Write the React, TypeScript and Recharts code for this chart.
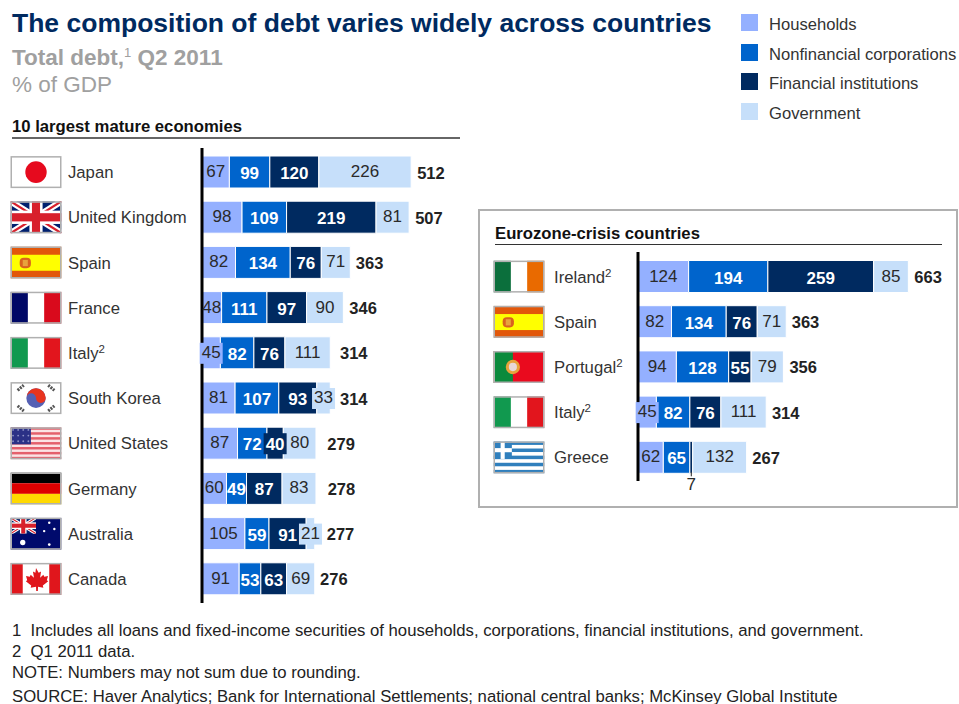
import React from 'react';
import { Bar, BarChart, LabelList, XAxis, YAxis } from 'recharts';

const seriesNames = ['Households', 'Nonfinancial corporations', 'Financial institutions', 'Government'];
const seriesKeys = ['households', 'corporations', 'financial', 'government'];
const seriesColors = ['#94b0ff', '#0064cc', '#002a60', '#c6dffa'];

// 10 largest mature economies
const matureCountries = ['Japan', 'United Kingdom', 'Spain', 'France', 'Italy', 'South Korea', 'United States', 'Germany', 'Australia', 'Canada'];
const matureHouseholds = [67, 98, 82, 48, 45, 81, 87, 60, 105, 91];
const matureCorporations = [99, 109, 134, 111, 82, 107, 72, 49, 59, 53];
const matureFinancial = [120, 219, 76, 97, 76, 93, 40, 87, 91, 63];
const matureGovernment = [226, 81, 71, 90, 111, 33, 80, 83, 21, 69];
const matureTotals = [512, 507, 363, 346, 314, 314, 279, 278, 277, 276];

// Eurozone-crisis countries
const crisisCountries = ['Ireland', 'Spain', 'Portugal', 'Italy', 'Greece'];
const crisisHouseholds = [124, 82, 94, 45, 62];
const crisisCorporations = [194, 134, 128, 82, 65];
const crisisFinancial = [259, 76, 55, 76, 7];
const crisisGovernment = [85, 71, 79, 111, 132];
const crisisTotals = [663, 363, 356, 314, 267];

const q1Countries = ['Ireland', 'Portugal', 'Italy'];

const footnotes = [
  '1  Includes all loans and fixed-income securities of households, corporations, financial institutions, and government.',
  '2  Q1 2011 data.',
  'NOTE: Numbers may not sum due to rounding.',
  'SOURCE: Haver Analytics; Bank for International Settlements; national central banks; McKinsey Global Institute',
];

const FONT = '"Liberation Sans", Arial, sans-serif';
const INK = '#333333';

const buildRows = (
  names: string[],
  households: number[],
  corporations: number[],
  financial: number[],
  government: number[],
  totals: number[],
) =>
  names.map((name, i) => ({
    name,
    households: households[i],
    corporations: corporations[i],
    financial: financial[i],
    government: government[i],
    total: totals[i],
  }));

const matureRows = buildRows(matureCountries, matureHouseholds, matureCorporations, matureFinancial, matureGovernment, matureTotals);
const crisisRows = buildRows(crisisCountries, crisisHouseholds, crisisCorporations, crisisFinancial, crisisGovernment, crisisTotals);

// extra room between bar end and total where the last segment's label spills over
const matureTotalGaps = [6, 6, 5.5, 6, 9.7, 9.7, 11.3, 11.7, 12, 5.3];
const crisisTotalGaps = [6, 5.5, 6, 5.7, 5.7];

function UnionJack({ w, h }: { w: number; h: number }) {
  const arm = h * 0.16;
  return (
    <g>
      <rect width={w} height={h} fill="#00206f" />
      <path d={`M0 0L${w} ${h}M${w} 0L0 ${h}`} stroke="#fff" strokeWidth={h * 0.2} />
      <path d={`M0 0L${w} ${h}M${w} 0L0 ${h}`} stroke="#d8202c" strokeWidth={h * 0.07} />
      <rect x={w / 2 - arm * 1.3} width={arm * 2.6} height={h} fill="#fff" />
      <rect y={h / 2 - arm * 1.3} width={w} height={arm * 2.6} fill="#fff" />
      <rect x={w / 2 - arm * 0.8} width={arm * 1.6} height={h} fill="#d8202c" />
      <rect y={h / 2 - arm * 0.8} width={w} height={arm * 1.6} fill="#d8202c" />
    </g>
  );
}

function FlagArt({ name }: { name: string }) {
  const W = 50;
  const H = 31;
  switch (name) {
    case 'Japan':
      return (
        <g>
          <rect width={W} height={H} fill="#fff" />
          <circle cx={25} cy={15.5} r={10.5} fill="#e60a1e" />
        </g>
      );
    case 'United Kingdom':
      return <UnionJack w={W} h={H} />;
    case 'Spain':
      return (
        <g>
          <rect width={W} height={H} fill="#e2570a" />
          <rect y={8} width={W} height={15.5} fill="#ffff00" />
          <rect x={9} y={11} width={11} height={10} rx={4} fill="#d9621e" />
          <rect x={12} y={13} width={5} height={6} fill="#e8a33c" />
        </g>
      );
    case 'France':
      return (
        <g>
          <rect width={W} height={H} fill="#fff" />
          <rect width={17} height={H} fill="#000866" />
          <rect x={33} width={17} height={H} fill="#d90a1c" />
        </g>
      );
    case 'Italy':
      return (
        <g>
          <rect width={W} height={H} fill="#fff" />
          <rect width={17} height={H} fill="#11994f" />
          <rect x={33} width={17} height={H} fill="#e2151d" />
        </g>
      );
    case 'Ireland':
      return (
        <g>
          <rect width={W} height={H} fill="#fff" />
          <rect width={17} height={H} fill="#0b6f3c" />
          <rect x={33} width={17} height={H} fill="#e96a00" />
        </g>
      );
    case 'South Korea':
      return (
        <g>
          <rect width={W} height={H} fill="#fff" />
          <circle cx={25} cy={15.5} r={9.5} fill="#5560b4" />
          <path d="M15.5 15.5a9.5 9.5 0 0 1 19 0a4.75 4.75 0 0 1-9.5 0a4.75 4.75 0 0 0-9.5 0z" fill="#e8341f" />
          <g stroke="#555" strokeWidth={3} strokeDasharray="2 1">
            <path d="M7 8L13 3" />
            <path d="M37 3L43 8" />
            <path d="M7 23L13 28" />
            <path d="M37 28L43 23" />
          </g>
        </g>
      );
    case 'United States':
      return (
        <g>
          <rect width={W} height={H} fill="#fbe3e5" />
          {[0, 1, 2, 3, 4, 5, 6].map((s) => (
            <rect key={s} y={s * 4.77} width={W} height={2.4} fill="#e4606c" />
          ))}
          <rect width={20} height={16.5} fill="#2b3186" />
          {[0, 1, 2, 3, 4, 5, 6, 7, 8, 9, 10, 11].map((d) => (
            <circle key={d} cx={2.5 + (d % 4) * 5} cy={2.5 + Math.floor(d / 4) * 5.5} r={0.9} fill="#8c90c4" />
          ))}
        </g>
      );
    case 'Germany':
      return (
        <g>
          <rect width={W} height={10.4} fill="#000" />
          <rect y={10.4} width={W} height={10.3} fill="#dd0000" />
          <rect y={20.7} width={W} height={10.3} fill="#ffd900" />
        </g>
      );
    case 'Australia':
      return (
        <g>
          <rect width={W} height={H} fill="#000a6c" />
          <svg width={25} height={15.5}>
            <UnionJack w={25} h={15.5} />
          </svg>
          <g fill="#fff">
            <circle cx={12} cy={24} r={2.6} />
            <circle cx={38} cy={5} r={1.2} />
            <circle cx={33} cy={13} r={1.2} />
            <circle cx={43} cy={11} r={1.2} />
            <circle cx={38} cy={26} r={1.3} />
          </g>
        </g>
      );
    case 'Canada':
      return (
        <g>
          <rect width={W} height={H} fill="#fff" />
          <rect width={12} height={H} fill="#e0161c" />
          <rect x={38} width={12} height={H} fill="#e0161c" />
          <path
            d="M25 5l2.6 4.6 2.4-1.2-1 6 3.2-3 .9 2 3.7-.6-1.2 4 1.4.9-5.3 4.3.5 2-5.2-.8-.2 4h-1.6l-.2-4-5.2.8.5-2-5.3-4.3 1.4-.9-1.2-4 3.7.6.9-2 3.2 3-1-6 2.4 1.2z"
            fill="#e0161c"
          />
        </g>
      );
    case 'Portugal':
      return (
        <g>
          <rect width={W} height={H} fill="#ea0a1e" />
          <rect width={19} height={H} fill="#0b8a3c" />
          <circle cx={19} cy={15.5} r={7} fill="#e8a33c" />
          <circle cx={19} cy={15.5} r={4} fill="#e8d8d8" />
        </g>
      );
    case 'Greece':
      return (
        <g>
          <rect width={W} height={H} fill="#fff" />
          {[0, 1, 2, 3, 4].map((s) => (
            <rect key={s} y={s * 6.9} width={W} height={3.4} fill="#2f7fbd" />
          ))}
          <rect width={18} height={17} fill="#2f7fbd" />
          <rect x={7} width={4} height={17} fill="#fff" />
          <rect y={6.5} width={18} height={4} fill="#fff" />
        </g>
      );
    default:
      return null;
  }
}

// flag plus country name, drawn in place of a plain category tick
function countryTick(flagX: number, textX: number) {
  return (props: any) => {
    const { y, payload } = props;
    const name = payload.value as string;
    const marked = q1Countries.includes(name);
    return (
      <g>
        <g transform={`translate(${flagX},${y - 15.5})`}>
          <svg width={51} height={32} viewBox="0 0 50 31" preserveAspectRatio="none">
            <FlagArt name={name} />
          </svg>
          <rect x={0.75} y={0.75} width={49.5} height={30.5} fill="none" stroke="#b0b0b0" strokeWidth={1.5} />
        </g>
        <text x={textX} y={y + 6.5} fontFamily={FONT} fontSize={16.7} fill={INK}>
          {name}
          {marked && (
            <tspan fontSize={11.5} dy={-6}>
              2
            </tspan>
          )}
        </text>
      </g>
    );
  };
}

// value inside a segment; narrow segments get a backing box so the digits stay readable
function segmentLabel(color: string, dark: boolean) {
  return (props: any) => {
    const { x, y, width, height, value } = props;
    const cx = x + width / 2;
    const cy = y + height / 2;
    const fill = dark ? '#ffffff' : '#2a2a2a';
    if (value < 10) {
      return (
        <g>
          <line x1={cx} x2={cx} y1={y + height - 1} y2={y + height + 3} stroke="#222" strokeWidth={1} />
          <text x={cx} y={y + height + 17} textAnchor="middle" fontFamily={FONT} fontSize={17} fill="#2a2a2a">
            {value}
          </text>
        </g>
      );
    }
    return (
      <g>
        {width < 19 && <rect x={cx - 11.5} y={cy - 10} width={23} height={21} fill={color} />}
        <text
          x={cx}
          y={dark ? cy + 7 : cy + 5}
          textAnchor="middle"
          fontFamily={FONT}
          fontSize={17}
          fontWeight={dark ? 700 : 400}
          fill={fill}
        >
          {value}
        </text>
      </g>
    );
  };
}

function totalLabel(gaps: number[]) {
  return (props: any) => {
    const { x, y, width, height, value, index } = props;
    return (
      <text
        x={x + width + gaps[index]}
        y={y + height / 2 + 6.5}
        fontFamily={FONT}
        fontSize={16.5}
        fontWeight={700}
        fill="#222222"
      >
        {value}
      </text>
    );
  };
}

type PanelProps = {
  rows: ReturnType<typeof buildRows>;
  left: number;
  top: number;
  width: number;
  height: number;
  axisX: number;
  flagX: number;
  textX: number;
  xMax: number;
  gaps: number[];
  axisPadding: { top: number; bottom: number };
};

function DebtPanel({ rows, left, top, width, height, axisX, flagX, textX, xMax, gaps, axisPadding }: PanelProps) {
  return (
    <div style={{ position: 'absolute', left, top }}>
      <BarChart
        width={width}
        height={height + 24}
        data={rows}
        layout="vertical"
        margin={{ top: 0, right: 0, left: 0, bottom: 24 }}
        barSize={32}
      >
        <XAxis type="number" domain={[0, xMax]} hide />
        <YAxis
          type="category"
          dataKey="name"
          width={axisX}
          interval={0}
          padding={axisPadding}
          tickLine={false}
          axisLine={{ stroke: '#000', strokeWidth: 3 }}
          tick={countryTick(flagX, textX)}
        />
        {seriesKeys.map((key, i) => (
          <Bar
            key={key}
            dataKey={key}
            stackId="debt"
            fill={seriesColors[i]}
            stroke="#ffffff"
            strokeWidth={1}
            isAnimationActive={false}
          >
            <LabelList dataKey={key} content={segmentLabel(seriesColors[i], i === 1 || i === 2)} />
            {key === 'government' && <LabelList dataKey="total" content={totalLabel(gaps)} />}
          </Bar>
        ))}
      </BarChart>
    </div>
  );
}

const abs = (left: number, top: number, extra: React.CSSProperties = {}): React.CSSProperties => ({
  position: 'absolute',
  left,
  top,
  whiteSpace: 'pre',
  lineHeight: 1,
  ...extra,
});

export default function App() {
  return (
    <div
      style={{
        position: 'absolute',
        left: 0,
        top: 0,
        width: 959,
        height: 704,
        overflow: 'hidden',
        background: '#fff',
        fontFamily: FONT,
        color: INK,
      }}
    >
      <div style={abs(12, 10, { fontSize: 26.5, fontWeight: 700, color: '#002a60' })}>
        The composition of debt varies widely across countries
      </div>
      <div style={abs(12, 47, { fontSize: 22.5, fontWeight: 700, color: '#a0a0a0' })}>
        Total debt,<sup style={{ fontSize: 13, fontWeight: 400, lineHeight: 0 }}>1</sup> Q2 2011
      </div>
      <div style={abs(12, 74, { fontSize: 22.5, color: '#a0a0a0' })}>% of GDP</div>

      {seriesNames.map((name, i) => (
        <React.Fragment key={name}>
          <div style={{ position: 'absolute', left: 741, top: 14 + i * 29.7, width: 17, height: 17, background: seriesColors[i] }} />
          <div style={abs(769, 17 + i * 29.7, { fontSize: 16.6 })}>{name}</div>
        </React.Fragment>
      ))}

      <div style={abs(12, 119, { fontSize: 16.7, fontWeight: 700, color: '#111' })}>10 largest mature economies</div>
      <div style={{ position: 'absolute', left: 12, top: 137, width: 448, height: 2, background: '#666' }} />

      <DebtPanel
        rows={matureRows}
        left={0}
        top={148}
        width={470}
        height={455}
        axisX={202}
        flagX={10.5}
        textX={68}
        xMax={656}
        gaps={matureTotalGaps}
        axisPadding={{ top: 1, bottom: 2 }}
      />

      <div
        style={{
          position: 'absolute',
          left: 478,
          top: 209,
          width: 480,
          height: 299,
          border: '2px solid #b0b0b0',
          boxSizing: 'border-box',
        }}
      />
      <div style={abs(495, 226, { fontSize: 16.7, fontWeight: 700, color: '#111' })}>Eurozone-crisis countries</div>
      <div style={{ position: 'absolute', left: 495, top: 244, width: 447, height: 1, background: '#333' }} />

      <DebtPanel
        rows={crisisRows}
        left={480}
        top={252}
        width={470}
        height={229}
        axisX={158}
        flagX={13.5}
        textX={74}
        xMax={764}
        gaps={crisisTotalGaps}
        axisPadding={{ top: 1.5, bottom: 1.5 }}
      />

      {footnotes.map((line, i) => (
        <div key={line} style={abs(12, [622.5, 643.5, 664.5, 688.5][i], { fontSize: 16.7, color: '#222' })}>
          {line}
        </div>
      ))}
    </div>
  );
}
